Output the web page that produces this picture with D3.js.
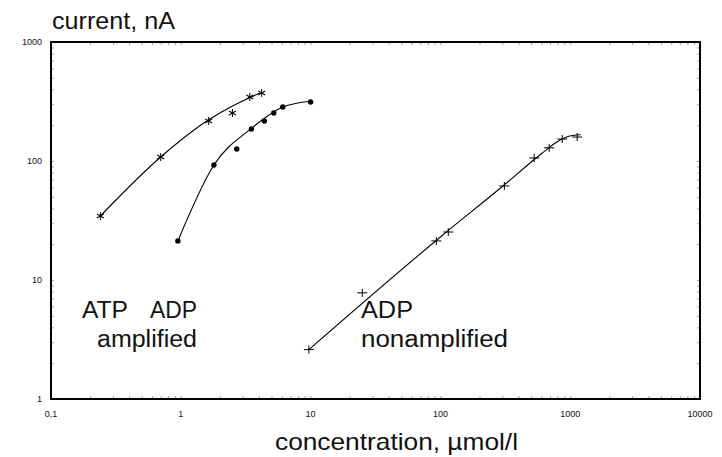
<!DOCTYPE html>
<html>
<head>
<meta charset="utf-8">
<script src="https://cdn.jsdelivr.net/npm/d3@7"></script>
<style>
  body { margin: 0; background: #fff; }
  svg text { font-family: "Liberation Sans", Arial, sans-serif; fill: #111; }
</style>
</head>
<body>
<svg width="722" height="457"></svg>
<script>
// data (concentration umol/l, current nA)
const atpPoints = [[0.24, 34.5], [0.70, 108], [1.64, 217], [2.5, 253], [3.4, 345], [4.2, 373]];
const atpFit = [[0.24, 34.5], [0.70, 108], [1.64, 222], [2.5, 290], [4.2, 378]];
const adpPoints = [[0.95, 21.3], [1.8, 92.5], [2.7, 126], [3.5, 186], [4.4, 217], [5.2, 253], [6.1, 284], [10, 313]];
const adpFit = [[0.95, 21.3], [1.8, 92.5], [3.5, 188], [6.1, 284], [10, 318]];
const nonampPoints = [[9.7, 2.6], [25, 7.8], [93, 21.3], [115, 25.3], [311, 61.7], [528, 106], [689, 129], [868, 153], [1132, 159]];
const nonampFit = [[9.7, 2.6], [100, 23], [300, 61], [600, 115], [800, 146], [950, 160], [1200, 166]];
const xTicks = [0.1, 1, 10, 100, 1000, 10000];
const xTickLabels = ['0,1', '1', '10', '100', '1000', '10000'];
const yTicks = [1, 10, 100, 1000];
const yTickLabels = ['1', '10', '100', '1000'];

const svg = d3.select('svg');
const m = {left: 51, right: 700, top: 42, bottom: 399};

const x = d3.scaleLog().domain([0.1, 10000]).range([m.left, m.right]);
const y = d3.scaleLog().domain([1, 1000]).range([m.bottom, m.top]);

// minor ticks on every side, pointing inward
const minorX = x.ticks().filter(v => v > 0.1 && v < 10000);
const minorY = y.ticks().filter(v => v > 1 && v < 1000);
const tickStyle = g => g.call(s => s.select('.domain').remove())
  .call(s => s.selectAll('line').attr('stroke', '#666').attr('stroke-width', 0.6))
  .call(s => s.selectAll('text').remove());
svg.append('g').attr('transform', `translate(0,${m.bottom})`)
  .call(d3.axisBottom(x).tickValues(minorX).tickSize(-3)).call(tickStyle);
svg.append('g').attr('transform', `translate(0,${m.top})`)
  .call(d3.axisTop(x).tickValues(minorX).tickSize(-3)).call(tickStyle);
svg.append('g').attr('transform', `translate(${m.left},0)`)
  .call(d3.axisLeft(y).tickValues(minorY).tickSize(-3)).call(tickStyle);
svg.append('g').attr('transform', `translate(${m.right},0)`)
  .call(d3.axisRight(y).tickValues(minorY).tickSize(-3)).call(tickStyle);

// frame
svg.append('rect')
  .attr('x', m.left).attr('y', m.top)
  .attr('width', m.right - m.left).attr('height', m.bottom - m.top)
  .attr('fill', 'none').attr('stroke', '#000').attr('stroke-width', 2);

// tick labels
svg.selectAll('.xlab').data(xTicks).enter().append('text')
  .attr('x', d => x(d)).attr('y', m.bottom + 18)
  .attr('text-anchor', 'middle').attr('font-size', 9)
  .text((d, i) => xTickLabels[i]);
svg.selectAll('.ylab').data(yTicks).enter().append('text')
  .attr('x', m.left - 9).attr('y', d => y(d) + 3)
  .attr('text-anchor', 'end').attr('font-size', 9)
  .text((d, i) => yTickLabels[i]);

// curves
const line = d3.line().x(d => x(d[0])).y(d => y(d[1])).curve(d3.curveMonotoneX);
[atpFit, adpFit, nonampFit].forEach(f => {
  svg.append('path').datum(f).attr('d', line)
    .attr('fill', 'none').attr('stroke', '#000').attr('stroke-width', 1.1);
});

// markers
svg.selectAll('.atp').data(atpPoints).enter().append('g')
  .attr('transform', d => `translate(${x(d[0])},${y(d[1])})`)
  .each(function () {
    const g = d3.select(this);
    [0, 60, 120].forEach(a => g.append('line')
      .attr('x1', 0).attr('y1', -4).attr('x2', 0).attr('y2', 4)
      .attr('transform', `rotate(${a})`)
      .attr('stroke', '#000').attr('stroke-width', 1));
  });
svg.selectAll('.adp').data(adpPoints).enter().append('circle')
  .attr('cx', d => x(d[0])).attr('cy', d => y(d[1])).attr('r', 2.7)
  .attr('fill', '#000');
svg.selectAll('.nonamp').data(nonampPoints).enter().append('path')
  .attr('d', d => `M${x(d[0]) - 5},${y(d[1])}h10M${x(d[0])},${y(d[1]) - 4}v8`)
  .attr('stroke', '#000').attr('stroke-width', 1);

// labels
const label = (t, px, py, w, fs) => svg.append('text')
  .attr('x', px).attr('y', py).attr('font-size', fs)
  .attr('textLength', w).attr('lengthAdjust', 'spacingAndGlyphs').text(t);
label('current, nA', 52, 29, 123, 23);
label('ATP', 82, 318, 46, 23);
label('ADP', 150, 318, 47, 23);
label('amplified', 97, 347, 100, 23);
label('ADP', 361, 318, 52, 23);
label('nonamplified', 361, 347, 147, 23);
label('concentration, \u00b5mol/l', 275, 450, 243, 24);
</script>
</body>
</html>
